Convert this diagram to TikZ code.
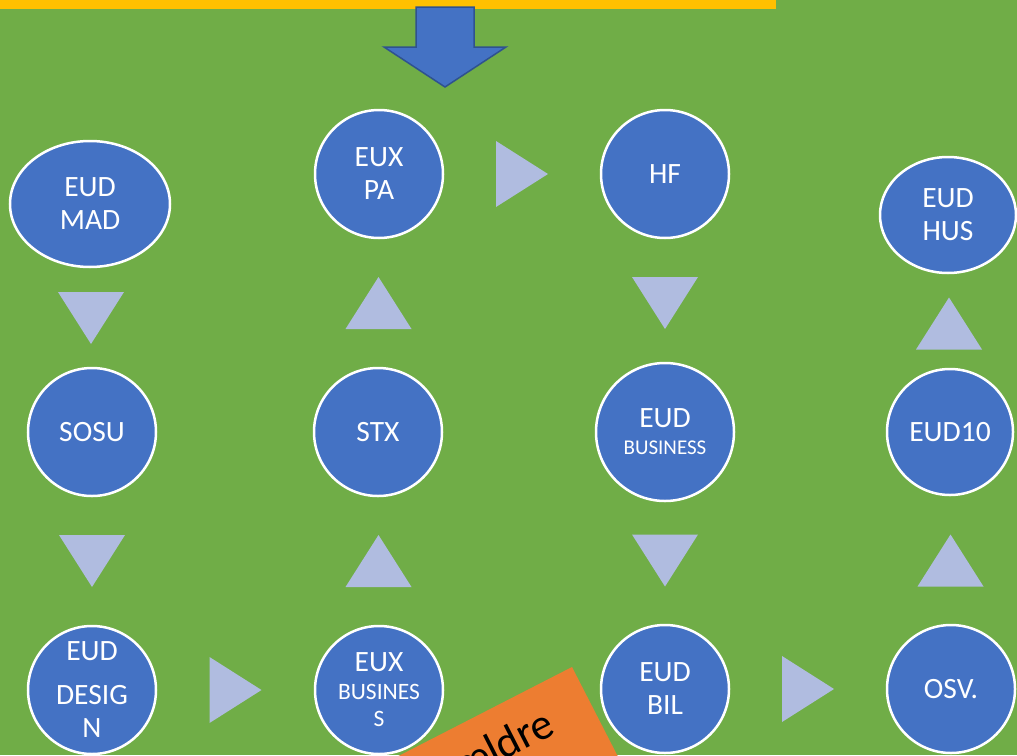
\documentclass[tikz,border=0pt]{standalone}
\usepackage{fontspec}
\setmainfont{Carlito}
\usetikzlibrary{shapes.geometric,calc}
\definecolor{bggreen}{HTML}{70AD47}
\definecolor{nodeblue}{HTML}{4472C4}
\definecolor{edgeblue}{HTML}{2F528F}
\definecolor{trililac}{HTML}{B0BCE0}
\definecolor{sheetorange}{HTML}{ED7D31}
\definecolor{baryellow}{HTML}{FFC000}
\tikzset{
  school/.style={
    % The shape:
    circle,minimum size=128pt,inner sep=0pt,
    % The border:
    draw=white,line width=2.5pt,
    % The filling and the text:
    fill=nodeblue,text=white,align=center,
    font=\fontsize{29.5}{33}\selectfont},
  wideschool/.style={school,ellipse,minimum width=160pt,minimum height=126pt},
  pics/flowtri/.style={code={\fill[trililac] (-26,-33) -- (26,0) -- (-26,33) -- cycle;}}
}

\begin{document}
\begin{tikzpicture}[x=1pt,y=-1pt]
	\useasboundingbox (0,0) rectangle (1017,755);
	\clip (0,0) rectangle (1017,755);
	\fill[bggreen] (0,0) rectangle (1017,755);
	\fill[baryellow] (0,0) rectangle (776,9);
	% Arrow into the chain
	\filldraw[fill=nodeblue,draw=edgeblue,line width=1.5pt]
		(416,7) -- (474,7) -- (474,47) -- (506,47) -- (445,87) -- (384,47) -- (416,47) -- cycle;
	% The orange sheet
	\fill[sheetorange] (572,667) -- ++(-390,200) -- ++(100,195) -- ++(390,-200) -- cycle;
	\node[rotate=27,anchor=base east,inner sep=0pt,font=\fontsize{44}{44}\selectfont] (parents) at (557,733) {Forældre};
	% Column 1
	\node[wideschool] (mad) at (90,204) {EUD\\MAD};
	\node[school] (sosu) at (92,432) {SOSU};
	\node[school] (design) at (92,690) {EUD\\[11pt]DESIG\\N};
	% Column 2
	\node[school] (pa) at (379,174) {EUX\\PA};
	\node[school] (stx) at (378,432) {STX};
	\node[school] (euxbiz) at (379,690) {EUX\\[-5pt]{\fontsize{23.5}{23}\selectfont BUSINES}\\[-6pt]{\fontsize{23.5}{23}\selectfont S}};
	% Column 3
	\node[school] (hf) at (665,174) {HF};
	\node[school,minimum size=138pt] (eudbiz) at (665,432) {EUD\\[-6pt]{\fontsize{21}{21}\selectfont BUSINESS}};
	\node[school] (bil) at (665,689) {EUD\\BIL};
	% Column 4
	\node[wideschool,minimum width=136pt,minimum height=116pt] (hus) at (948,215) {EUD\\HUS};
	\node[school,minimum size=126pt] (eud10) at (950,432) {EUD10};
	\node[school] (osv) at (951,689) {OSV.};
	% Steps between the schools
	\pic[rotate=-90] at ($(mad)!0.5!(sosu)$) {flowtri};
	\pic[rotate=-90] at ($(sosu)!0.5!(design)$) {flowtri};
	\pic at ($(design)!0.5!(euxbiz)$) {flowtri};
	\pic[rotate=90] at ($(euxbiz)!0.5!(stx)$) {flowtri};
	\pic[rotate=90] at ($(stx)!0.5!(pa)$) {flowtri};
	\pic at ($(pa)!0.5!(hf)$) {flowtri};
	\pic[rotate=-90] at ($(hf)!0.5!(eudbiz)$) {flowtri};
	\pic[rotate=-90] at ($(eudbiz)!0.5!(bil)$) {flowtri};
	\pic at ($(bil)!0.5!(osv)$) {flowtri};
	\pic[rotate=90] at ($(osv)!0.5!(eud10)$) {flowtri};
	\pic[rotate=90] at ($(eud10)!0.5!(hus)$) {flowtri};
\end{tikzpicture}
\end{document}
